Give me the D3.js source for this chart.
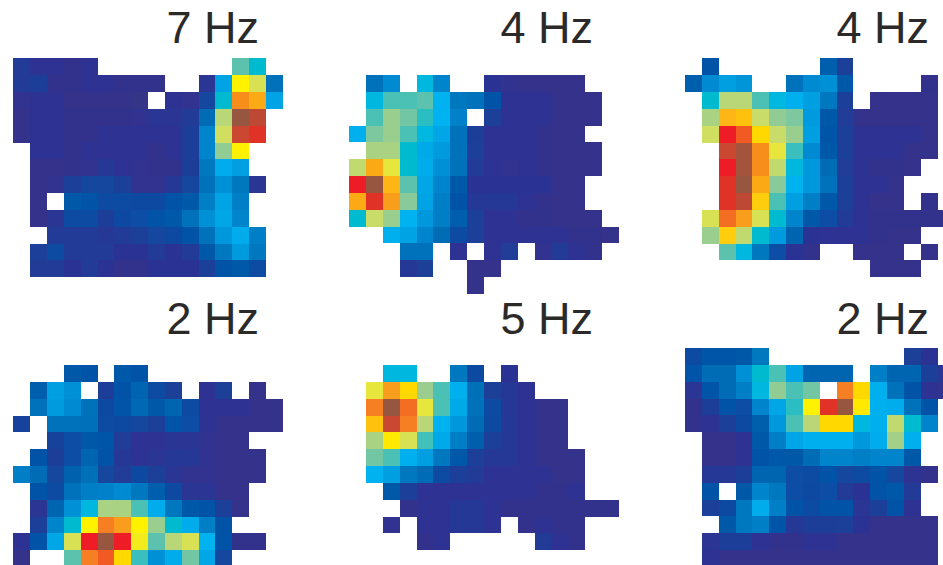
<!DOCTYPE html>
<html>
<head>
<meta charset="utf-8">
<script src="https://cdn.jsdelivr.net/npm/d3@7"></script>
<style>
    html, body { margin: 0; padding: 0; background: #fff; overflow: hidden; }
    text { font-family: "Liberation Sans", Arial, sans-serif; }
</style>
</head>
<body>
<svg id="canvas" width="943" height="565"></svg>
<script>
// firing rate of each bin, as percent of the cell's peak. _ = bin never visited
const _ = null;

const titles = ['7 Hz', '4 Hz', '4 Hz', '2 Hz', '5 Hz', '2 Hz'];

const cellA = [
    [8, 4, 4, 2, 4, _, _, _, _, _, _, _, _, 60, 52],
    [8, 10, 2, 2, 4, 4, 2, 2, 2, _, _, 6, 43, 80, 74, 28],
    [3, 4, 4, 1, 1, 1, 1, 0, _, 4, 3, 14, 52, 89, 87, 43],
    [1, 4, 4, 2, 2, 2, 2, 3, 6, 6, 8, 26, 70, 100, 97],
    [1, 4, 4, 2, 2, 4, 4, 4, 4, 4, 10, 34, 73, 96, 95],
    [_, 4, 4, 2, 4, 4, 4, 4, 2, 4, 10, 34, 65, 80],
    [_, 1, 1, 2, 3, 7, 4, 3, 2, 2, 10, 30, 46, 42],
    [_, 1, 3, 12, 14, 14, 12, 3, 3, 7, 14, 28, 38, 30, 6],
    [_, 1, _, 20, 18, 16, 16, 15, 15, 18, 20, 32, 43, 32],
    [_, 1, 6, 16, 16, 10, 15, 17, 18, 20, 28, 38, 44, 34],
    [_, _, 8, 8, 8, 7, 8, 11, 14, 15, 18, 28, 40, 46, 32],
    [_, 12, 16, 8, 8, 8, 5, 5, 8, 5, 8, 20, 30, 41, 30],
    [_, 8, 8, 5, 8, 5, 2, 2, 5, 5, 5, 12, 18, 20, 16]
];

const cellB = [
    [_, 28, 36, _, 50, 34, _, _, 5, 3, 1, 1, 1, 1],
    [_, 50, 58, 58, 60, 48, 30, 28, 18, 4, 4, 4, 1, 1, 1],
    [_, 58, 66, 62, 55, 48, 33, _, 11, 4, 4, 4, 1, 1, 1],
    [47, 63, 66, 58, 50, 44, 28, 10, 4, 4, 4, 2, 1, 1],
    [_, 68, 68, 52, 45, 41, 28, 12, 4, 4, 4, 2, 1, 1, 1],
    [71, 87, 76, 52, 46, 38, 28, 8, 4, 3, 4, 2, 1, 1, 1],
    [94, 100, 86, 60, 44, 34, 20, 5, 5, 5, 5, 5, 1, 1],
    [87, 95, 88, 64, 43, 32, 18, 7, 7, 7, 4, 2, 1, 1],
    [52, 72, 66, 48, 40, 32, 22, 12, 4, 4, 2, 2, 1, 1, 1],
    [_, _, 47, 43, 34, 26, 16, 12, 4, 4, 4, 4, 4, 2, 2, 1],
    [_, _, _, 28, 28, _, 4, _, 4, 9, _, 3, 8, 4, 2],
    [_, _, _, 7, 11, _, _, 1, 1],
    [_, _, _, _, _, _, _, 1]
];

const cellC = [
    [_, 18, _, _, _, _, _, _, 22, 12],
    [22, 36, 42, 39, _, _, 28, 36, 38, 20, _, _, _, _, 2],
    [_, 52, 70, 70, 58, 50, 47, 42, 30, 12, _, 1, 1, 1, 1],
    [_, 68, 86, 85, 72, 65, 63, 41, 20, 9, 1, 1, 1, 1, 1],
    [_, 73, 94, 92, 83, 72, 66, 42, 19, 11, 4, 4, 4, 4, 1],
    [_, _, 96, 99, 89, 76, 56, 36, 20, 12, 4, 4, 4, 1, 1],
    [_, _, 94, 99, 89, 71, 50, 40, 26, 9, 4, 2, 2, 1],
    [_, _, 95, 100, 87, 64, 48, 40, 28, 11, 4, 4, 1],
    [_, _, 95, 97, 84, 58, 42, 32, 20, 11, 4, 1, 1, _, 2],
    [_, 74, 91, 88, 74, 52, 34, 20, 17, 8, 4, 2, 2, 2, 2, 2],
    [_, 66, 84, 71, 52, 41, 24, 5, 4, 4, 4, 2, 1, 1],
    [_, _, 60, 50, 30, 17, 5, 2, _, _, 1, 1, 1, _, 1],
    [_, _, _, _, _, _, _, _, _, _, _, 1, 1, 1]
];

const cellD = [
    [_, _, _, 20, 18, _, 20, 18],
    [_, 22, 42, 38, _, 10, 18, 24, 16, 11, _, 4, 11, _, 1],
    [_, 28, 41, 36, 28, 15, 19, 25, 20, 24, 16, 4, 4, 4, 1, 1],
    [13, _, 28, 28, 27, 16, 15, 14, 11, 19, 17, 4, 1, 1, 1, 1],
    [_, _, 13, 17, 20, 19, 9, 4, 4, 6, 6, 3, 1, 1],
    [_, 18, 10, 17, 24, 18, 7, 4, 6, 7, 7, 3, 1, 1, 1],
    [32, 26, 14, 23, 27, 14, 9, 15, 11, 6, 3, 3, 1, 1, 1],
    [_, 18, 16, 28, 32, 33, 36, 30, 22, 15, 6, 6, 1, 1],
    [_, 6, 24, 38, 50, 68, 68, 58, 46, 30, 20, 18, 12, 1],
    [_, 12, 34, 52, 80, 90, 88, 80, 66, 52, 46, 32, 18],
    [4, 18, 44, 74, 94, 100, 94, 78, 60, 70, 74, 48, 18, 2, 2],
    [1, _, _, 60, 90, 92, 83, 56, 38, 46, 62, 44, 14]
];

const cellE = [
    [_, _, 50, 50, _, _, 30, 15, _, 5],
    [_, 76, 88, 83, 66, 58, 47, 27, 11, 7, 4],
    [_, 90, 100, 91, 76, 58, 45, 28, 16, 7, 4, 1, 1],
    [_, 85, 96, 90, 70, 48, 40, 26, 15, 7, 4, 1, 1],
    [_, 68, 81, 74, 57, 45, 32, 22, 12, 7, 4, 1, 1],
    [_, 62, 58, 47, 42, 30, 20, 12, 7, 7, 4, 1, 1, 1],
    [_, 48, 42, 30, 26, 16, 12, 8, 4, 4, 4, 4, 1, 1],
    [_, _, 20, 12, 4, 4, 4, 4, 4, 4, 4, 2, 2, 4],
    [_, _, _, 2, 4, 4, 7, 7, 4, 2, 2, 2, 2, 2, 2, 2],
    [_, _, 3, _, 4, 4, 7, 7, 4, _, 2, 4, 2, 2],
    [_, _, _, _, 2, 4, _, _, _, _, _, 8, 4, 2]
];

const cellF = [
    [16, 19, 19, 20, 30, _, _, _, _, _, _, _, _, 11, 5],
    [19, 26, 26, 38, 52, 58, 43, 24, 24, 24, _, 32, 24, 24, 12, 6],
    [6, 19, 26, 32, 50, 65, 58, 62, _, 90, 83, 47, 28, 18, 4, 3],
    [2, 10, 18, 17, 34, 44, 55, 80, 95, 100, 81, 47, 46, 28, 18],
    [2, 4, 12, 15, 22, 40, 58, 70, 83, 83, 50, 47, 71, 52, 34],
    [_, 1, 1, 4, 20, 32, 44, 47, 47, 47, 40, 46, 67, 47],
    [_, 1, 1, 4, 18, 20, 20, 26, 34, 34, 32, 34, 34, 20],
    [_, 7, 7, 10, 24, 24, 17, 16, 18, 14, 16, 18, 14, 4, 2],
    [_, 18, _, 20, 34, 30, 17, 15, 17, 8, 5, 18, 20, 8],
    [_, 12, 15, 30, 46, 32, 18, 16, 18, 18, 6, 12, 18, 4],
    [_, _, 20, 30, 32, 19, 7, 10, 10, 12, 5, 1, 1, 1, 1],
    [_, 6, 10, 10, 4, 2, 2, 4, 4, 1, 1, 1, 1, 1, 1],
    [_, 4, 1, 1, 1, 1, 1, 1, 1, 1, 1, 1, 1, 1, 1]
];

const cells = [cellA, cellB, cellC, cellD, cellE, cellF];

// colour bar of the figure
const rateStops = [0, 4, 8, 12, 16, 20, 26, 32, 38, 43, 48, 52, 56, 60, 64, 68, 72, 76, 80, 83, 86, 88, 90, 92, 94, 95, 96, 100];
const rateColors = ['#363488', '#2e3192', '#233a96', '#1a4099', '#0b4ba3', '#0058a9', '#006cb5', '#007ec6', '#0090d6', '#00a3e4',
    '#00b2ef', '#00bbd0', '#3abfbe', '#5bc2ae', '#88ca9a', '#aad283', '#c9dc6a', '#e6e63c', '#fff200', '#ffd800',
    '#fdb614', '#f99d1c', '#f57f20', '#f15a22', '#ee1c25', '#e03226', '#ca4630', '#975740'];

let color = d3.scaleLinear().domain(rateStops).range(rateColors);

// top-left corner of each map
let originX = [13.3, 349.3, 685, 13.3, 349.3, 685];
let originY = [58.3, 75, 58.3, 365, 365, 348];
let titleX = [259, 593, 929, 259, 593, 929];
let titleY = [43, 43, 43, 334, 334, 334];

let nCols = 16, nRows = 13, binSize = 16.84;
let x = d3.scaleBand().domain(d3.range(nCols)).range([0, nCols * binSize]);
let y = d3.scaleBand().domain(d3.range(nRows)).range([0, nRows * binSize]);

let canvas = d3.select('#canvas');

let defs = canvas.append('defs');
defs.append('filter').attr('id', 'soft')
    .attr('x', '-2%').attr('y', '-2%').attr('width', '104%').attr('height', '104%')
    .append('feGaussianBlur').attr('stdDeviation', 0.45);

cells.forEach((cell, i) => {
    let bins = [];
    cell.forEach((row, r) => {
        row.forEach((value, c) => {
            if (value !== null) bins.push({ r: r, c: c, value: value });
        });
    });

    let panel = canvas.append('g')
        .attr('transform', 'translate(' + originX[i] + ',' + originY[i] + ')');

    panel.append('g')
        .attr('filter', 'url(#soft)')
        .attr('shape-rendering', 'crispEdges')
        .selectAll('rect')
        .data(bins)
        .enter()
        .append('rect')
        .attr('x', (d) => x(d.c))
        .attr('y', (d) => y(d.r))
        .attr('width', x.bandwidth())
        .attr('height', y.bandwidth())
        .attr('fill', (d) => color(d.value));

    canvas.append('text')
        .attr('x', titleX[i])
        .attr('y', titleY[i])
        .attr('text-anchor', 'end')
        .attr('font-size', 45)
        .attr('fill', '#2b2a29')
        .text(titles[i]);
});
</script>
</body>
</html>
